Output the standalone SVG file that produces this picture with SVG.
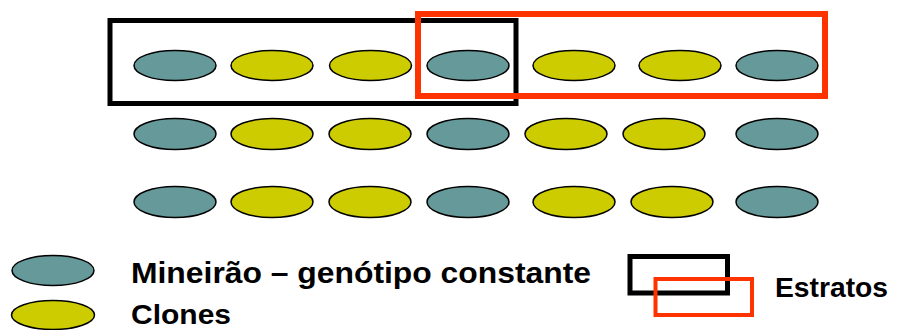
<svg xmlns="http://www.w3.org/2000/svg" width="898" height="330" viewBox="0 0 898 330">
<style>
.m{fill:#669999;stroke:#000;stroke-width:1.5}
.c{fill:#CCCC00;stroke:#000;stroke-width:1.5}
.t{font-family:"Liberation Sans",Arial,sans-serif;font-weight:bold;fill:#000}
.bk{fill:none;stroke:#000}
.rd{fill:none;stroke:#FF3300}
</style>
<rect width="898" height="330" fill="#fff"/>
<g id="row1">
<ellipse class="m" cx="175" cy="65.5" rx="41" ry="15"/>
<ellipse class="c" cx="272" cy="65.5" rx="41" ry="15"/>
<ellipse class="c" cx="370.5" cy="65.5" rx="41" ry="15"/>
<ellipse class="m" cx="468" cy="65.5" rx="41" ry="15"/>
<ellipse class="c" cx="574" cy="65.5" rx="41" ry="15"/>
<ellipse class="c" cx="680" cy="65.5" rx="41" ry="15"/>
<ellipse class="m" cx="777" cy="65.5" rx="41" ry="15"/>
</g>
<g id="row2">
<ellipse class="m" cx="175" cy="134" rx="41" ry="15.5"/>
<ellipse class="c" cx="272" cy="134" rx="41" ry="15.5"/>
<ellipse class="c" cx="370" cy="134" rx="41" ry="15.5"/>
<ellipse class="m" cx="468" cy="134" rx="41" ry="15.5"/>
<ellipse class="c" cx="566" cy="134" rx="41" ry="15.5"/>
<ellipse class="c" cx="664" cy="134" rx="41" ry="15.5"/>
<ellipse class="m" cx="777" cy="134" rx="41" ry="15.5"/>
</g>
<g id="row3">
<ellipse class="m" cx="175" cy="202" rx="41" ry="15.5"/>
<ellipse class="c" cx="272" cy="202" rx="41" ry="15.5"/>
<ellipse class="c" cx="370" cy="202" rx="41" ry="15.5"/>
<ellipse class="m" cx="468" cy="202" rx="41" ry="15.5"/>
<ellipse class="c" cx="574" cy="202" rx="41" ry="15.5"/>
<ellipse class="c" cx="672" cy="202" rx="41" ry="15.5"/>
<ellipse class="m" cx="777" cy="202" rx="41" ry="15.5"/>
</g>
<g id="strata">
<rect class="bk" x="110" y="20.5" width="406" height="83" stroke-width="5"/>
<rect class="rd" x="418" y="14" width="407" height="82" stroke-width="6"/>
</g>
<g id="legend-mineirao">
<ellipse class="m" cx="53" cy="270.5" rx="41" ry="15"/>
<text class="t" x="131" y="283" font-size="30" textLength="460" lengthAdjust="spacingAndGlyphs">Mineirão – genótipo constante</text>
</g>
<g id="legend-clones">
<ellipse class="c" cx="53" cy="315" rx="41.5" ry="14.5"/>
<text class="t" x="131" y="324" font-size="28" textLength="100" lengthAdjust="spacingAndGlyphs">Clones</text>
</g>
<g id="legend-estratos">
<rect class="bk" x="630" y="256.5" width="97.5" height="36.5" stroke-width="5"/>
<rect class="rd" x="655.5" y="279" width="96.5" height="36" stroke-width="4"/>
<text class="t" x="775" y="296.5" font-size="28" textLength="113" lengthAdjust="spacingAndGlyphs">Estratos</text>
</g>
</svg>
